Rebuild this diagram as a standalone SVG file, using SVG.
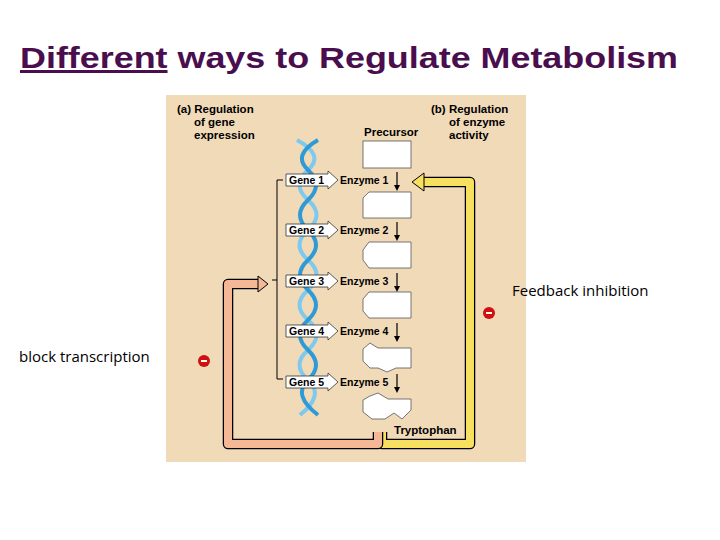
<svg xmlns="http://www.w3.org/2000/svg" width="720" height="540" viewBox="0 0 720 540">
<style>
.t{font-family:"Liberation Sans",Arial,sans-serif;font-weight:bold;font-size:11.5px;fill:#000}
.g{font-family:"Liberation Sans",Arial,sans-serif;font-weight:bold;font-size:10.5px;fill:#000}
.n{font-family:"Open Sans","Noto Sans",sans-serif;font-size:15px;fill:#000}
.box{fill:#fff;stroke:#555;stroke-width:0.8}
.gene{fill:#fff;stroke:#333;stroke-width:0.8}
.da{stroke:#000;stroke-width:1.2;fill:none;marker-end:url(#ah)}
</style>
<defs>
<marker id="ah" markerWidth="6" markerHeight="6" refX="3" refY="3" orient="auto" markerUnits="userSpaceOnUse"><path d="M0,0 L6,3 L0,6 Z" fill="#000"/></marker>
<g id="genebox"><path d="M0,-6 H42 V-9 L52,0 L42,9 V6 H0 Z" class="gene"/></g>
</defs>
<rect width="720" height="540" fill="#fff"/>
<text x="20" y="68" font-family="Liberation Sans,Arial,sans-serif" font-size="30" font-weight="bold" fill="#4a0e4e" textLength="658" lengthAdjust="spacingAndGlyphs"><tspan text-decoration="underline">Different</tspan> ways to Regulate Metabolism</text>
<rect x="166" y="95" width="360" height="367" fill="#f0dab8"/>
<g id="labels">
<text class="t" x="177" y="113">(a) Regulation</text>
<text class="t" x="194" y="126">of gene</text>
<text class="t" x="194" y="139">expression</text>
<text class="t" x="431" y="113">(b) Regulation</text>
<text class="t" x="449" y="126">of enzyme</text>
<text class="t" x="449" y="139">activity</text>
<text class="t" x="364" y="136">Precursor</text>
<text class="t" x="394" y="434">Tryptophan</text>
</g>
<g id="dna" fill="none" stroke-width="4">
<path d="M297,140 Q325,155 308,170 T308,200 T308,230 T308,260 T308,290 T308,320 T308,350 T308,380 T300,415" stroke="#7fc9ee"/>
<path d="M318,140 Q292,155 308,170 T308,200 T308,230 T308,260 T308,290 T308,320 T308,350 T308,380 T318,415" stroke="#2f9ad6"/>
</g>
<g id="connectors" fill="none">
<path d="M382,432 V444 H470 V182 H424" stroke="#000" stroke-width="10.5" stroke-linejoin="round"/>
<path d="M382,432 V444 H470 V182 H424" stroke="#f7e060" stroke-width="8" stroke-linejoin="round"/>
<path d="M424,173 L412,182 L424,191 Z" fill="#f7e060" stroke="#000" stroke-width="1"/>
<path d="M378,432 V444 H228 V284 H258" stroke="#000" stroke-width="10.5" stroke-linejoin="round"/>
<path d="M378,432 V444 H228 V284 H258" stroke="#f4b896" stroke-width="8" stroke-linejoin="round"/>
<path d="M258,276 L268,284 L258,292 Z" fill="#f4b896" stroke="#000" stroke-width="1"/>
<path d="M283,180 H277 V379 H283 M277,280 H272" stroke="#000" stroke-width="1"/>
</g>
<g id="genes">
<use href="#genebox" x="286" y="180"/><text class="g" x="289" y="184">Gene 1</text>
<use href="#genebox" x="286" y="230"/><text class="g" x="289" y="234">Gene 2</text>
<use href="#genebox" x="286" y="281"/><text class="g" x="289" y="285">Gene 3</text>
<use href="#genebox" x="286" y="331"/><text class="g" x="289" y="335">Gene 4</text>
<use href="#genebox" x="286" y="382"/><text class="g" x="289" y="386">Gene 5</text>
<text class="g" x="340" y="184">Enzyme 1</text>
<text class="g" x="340" y="234">Enzyme 2</text>
<text class="g" x="340" y="285">Enzyme 3</text>
<text class="g" x="340" y="335">Enzyme 4</text>
<text class="g" x="340" y="386">Enzyme 5</text>
<path class="da" d="M397,172 V188"/><path class="da" d="M397,222 V238"/><path class="da" d="M397,273 V289"/><path class="da" d="M397,323 V339"/><path class="da" d="M397,374 V390"/>
</g>
<g id="molecules">
<rect class="box" x="363" y="141" width="48" height="27"/>
<path class="box" d="M369,192 H411 V218 H363 V198 Z"/>
<path class="box" d="M369,242 H411 V268 H369 L363,260 V250 Z"/>
<path class="box" d="M369,292 H411 V318 H369 L363,311 V299 Z"/>
<path class="box" d="M370,343 L378,348 H411 V368 H396 L387,372 L378,368 H370 L363,361 V349 Z"/>
<path class="box" d="M370,396 L378,393 L388,399 H411 V410 L402,419 L394,413 L385,419 H372 L363,412 V400 Z"/>
</g>
<g id="minus">
<circle cx="204" cy="361" r="6" fill="#d01010"/><rect x="201" y="360" width="6" height="2" fill="#fff"/>
<circle cx="489" cy="313" r="6" fill="#d01010"/><rect x="486" y="312" width="6" height="2" fill="#fff"/>
</g>
<text class="n" x="512" y="296">Feedback inhibition</text>
<text class="n" x="19" y="362">block transcription</text>
</svg>
